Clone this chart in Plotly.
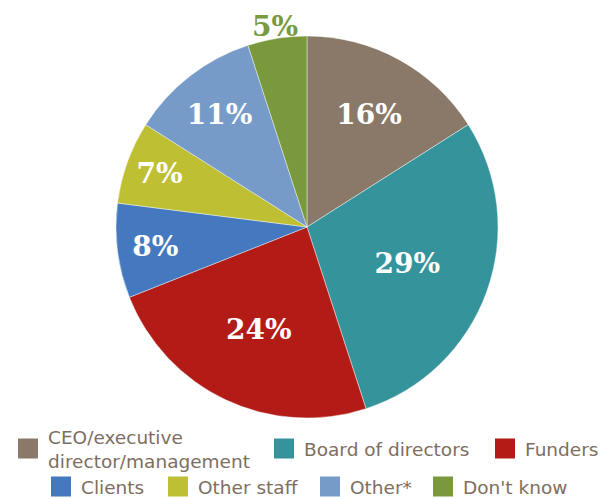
import math
import plotly.graph_objects as go

labels = ["CEO/executive<br>director/management", "Board of directors", "Funders",
          "Clients", "Other staff", "Other*", "Don't know"]
values = [16, 29, 24, 8, 7, 11, 5]
colors = ["#8A7968", "#35939B", "#B21B16", "#4479C0", "#BEBF33", "#769BC9", "#79993C"]
outside_idx = 6  # "Don't know" label sits outside the pie

# legend placement (container pixels): square centre x, row centre y
legend_x = [27, 284, 505, 61, 178, 330, 443]
legend_y = [449, 449, 449, 487, 487, 487, 487]
W, H = 610, 499
dom_x = [108 / W, 490 / W]
dom_y = [89 / H, 471 / H]

text_positions = ["none" if i == outside_idx else "inside" for i in range(len(values))]

fig = go.Figure(go.Pie(
    labels=labels, values=values, sort=False, direction="clockwise", rotation=0,
    marker=dict(colors=colors, line=dict(color="rgba(255,255,255,0.6)", width=0.7)),
    texttemplate="%{value}%", textposition=text_positions,
    insidetextorientation="horizontal",
    textfont=dict(family="DejaVu Serif", size=28, color="white", weight="bold"),
    domain=dict(x=dom_x, y=dom_y),
    showlegend=False, hoverinfo="label+percent",
))

# outside label for the small slice, placed along its mid-angle
total = sum(values)
mid = (sum(values[:outside_idx]) + values[outside_idx] / 2) / total * 2 * math.pi
cx, cy = sum(dom_x) / 2, sum(dom_y) / 2
rx, ry = (dom_x[1] - dom_x[0]) / 2, (dom_y[1] - dom_y[0]) / 2
k = 1.065
fig.add_annotation(
    x=cx + k * rx * math.sin(mid), y=cy + k * ry * math.cos(mid),
    xref="paper", yref="paper", xanchor="center", yanchor="middle",
    text=f"{values[outside_idx]}%", showarrow=False,
    font=dict(family="DejaVu Serif", size=28, color=colors[outside_idx], weight="bold"),
)

legend_layout = {}
for i, (lab, col) in enumerate(zip(labels, colors)):
    key = "legend" if i == 0 else f"legend{i+1}"
    fig.add_trace(go.Scatter(
        x=[None], y=[None], mode="markers", name=lab,
        marker=dict(symbol="square", size=16, color=col, line=dict(color=col, width=4)),
        legend=key, showlegend=True, hoverinfo="skip",
    ))
    legend_layout[key] = dict(
        xref="container", yref="container",
        x=(legend_x[i] - 28) / W, xanchor="left",
        y=1 - (legend_y[i] - 8) / H, yanchor="middle",
        orientation="h", bgcolor="rgba(0,0,0,0)", borderwidth=0,
        font=dict(family="DejaVu Sans", size=18.5, color="#7E6E60"),
        itemclick=False, itemdoubleclick=False,
    )

fig.update_layout(
    width=W, height=H,
    margin=dict(l=0, r=0, t=0, b=0, autoexpand=False),
    paper_bgcolor="white", plot_bgcolor="white",
    xaxis=dict(visible=False), yaxis=dict(visible=False),
    **legend_layout,
)

fig.write_html("out.html")
